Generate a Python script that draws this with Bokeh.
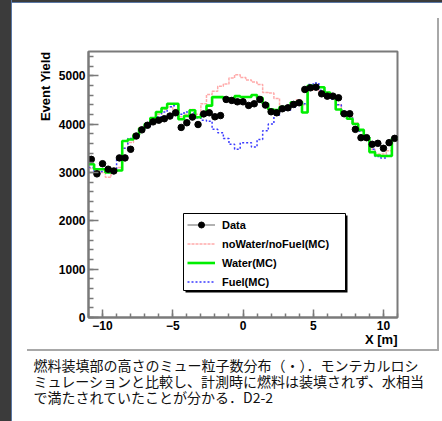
import numpy as np
from bokeh.plotting import figure
from bokeh.models import (Range1d, FixedTicker, Title, BoxAnnotation, Legend,
                          LegendItem, GlobalInlineStyleSheet)
from bokeh.embed import file_html
from bokeh.resources import INLINE

# ---------------- data ----------------
x_lo, x_hi, n_bins = -11.0, 11.0, 55

data_yield = [3270, 2970, 3180, 3066, 3030, 3300, 3300, 3478, 3753, 3880,
              3975, 4045, 4080, 4110, 4165, 4233, 3930, 4027, 4144, 3990,
              4210, 4233, 4150, 4175, 4509, 4488, 4460, 4460, 4385, 4419,
              4509, 4392, 4254, 4233, 4316, 4336, 4406, 4440, 4715, 4749,
              4763, 4625, 4577, 4577, 4543, 4213, 4213, 3890, 3718, 3718,
              3581, 3601, 3498, 3615, 3704]

water_mc = [3169, 3066, 3066, 3000, 3030, 3040, 3650, 3680, 3780, 3910,
            4000, 4124, 4250, 4330, 4420, 4420, 4100, 4165, 4285, 4140,
            4200, 4380, 4557, 4557, 4530, 4530, 4577, 4560, 4560, 4600,
            4543, 4420, 4300, 4290, 4350, 4350, 4450, 4460, 4240, 4790,
            4760, 4760, 4650, 4560, 4300, 4200, 4110, 4000, 3880, 3720,
            3420, 3350, 3340, 3340, 3700]

nowater_mc = [3080, 3040, 3000, 2900, 3000, 3100, 3500, 3620, 3800, 3930,
              4000, 4090, 4200, 4300, 4360, 4300, 4150, 4200, 4300, 4200,
              4420, 4610, 4680, 4780, 4830, 4950, 5020, 4960, 4910, 4870,
              4820, 4650, 4640, 4530, 4350, 4340, 4400, 4500, 4400, 4700,
              4720, 4650, 4620, 4550, 4400, 4250, 4150, 4020, 3860, 3680,
              3480, 3380, 3380, 3450, 3700]

fuel_mc = [3100, 2980, 3020, 3000, 3050, 3300, 3500, 3700, 3750, 3880,
           3950, 4050, 4150, 4250, 4360, 4380, 4200, 4250, 4230, 4130,
           4080, 4060, 3890, 3820, 3700, 3580, 3480, 3615, 3615, 3526,
           3680, 3860, 4000, 4180, 4290, 4290, 4350, 4450, 4420, 4820,
           4850, 4700, 4620, 4520, 4400, 4250, 4150, 4000, 3850, 3700,
           3480, 3330, 3300, 3350, 3680]

x_major = [-10, -5, 0, 5, 10]
y_major = [0, 1000, 2000, 3000, 4000, 5000]

legend_labels = ["Data", "noWater/noFuel(MC)", "Water(MC)", "Fuel(MC)"]

caption_lines = ["燃料装填部の高さのミュー粒子数分布（・）．モンテカルロシ",
                 "ミュレーションと比較し、計測時に燃料は装填されず、水相当",
                 "で満たされていたことが分かる．D2-2"]

# ---------------- derived ----------------
edges = np.linspace(x_lo, x_hi, n_bins + 1)
centers = 0.5 * (edges[:-1] + edges[1:])


def step_y(vals):
    return list(vals) + [vals[-1]]


page_css = ("html { background: "
            "linear-gradient(90deg, #3b3b3b 0px, #3b3b3b 11px, #5a78a6 11px, #5a78a6 12px, rgba(255,255,255,0) 12px), "
            "linear-gradient(#a8a8a8, #a8a8a8) 437px 18px / 2px 333px no-repeat, "
            "linear-gradient(#a8a8a8, #a8a8a8) 27px 349px / 412px 2px no-repeat, "
            "linear-gradient(180deg, #3b3b3b 0px, #3b3b3b 2px, #5a78a6 2px, #5a78a6 3px, #ffffff 3px); } "
            "body { background: transparent; }")

W, H = 441, 420
p = figure(width=W, height=H, output_backend="svg", toolbar_location=None,
           x_range=Range1d(x_lo, x_hi), y_range=Range1d(0, 5500),
           min_border_left=88, min_border_right=W - 397, min_border_top=51,
           min_border_bottom=H - 317)
p.stylesheets = [GlobalInlineStyleSheet(css=page_css)]
p.border_fill_color = None
p.background_fill_color = "white"
p.outline_line_color = "#7a7a7a"
p.outline_line_width = 2
p.xgrid.visible = False
p.ygrid.visible = False

for ax in (p.xaxis[0], p.yaxis[0]):
    ax.axis_line_color = "#7a7a7a"
    ax.axis_line_width = 2
    ax.major_tick_line_color = "#7a7a7a"
    ax.minor_tick_line_color = "#7a7a7a"
    ax.major_tick_line_width = 1.5
    ax.minor_tick_line_width = 1.5
    ax.major_tick_out = 0
    ax.minor_tick_out = 0
    ax.major_label_text_font = "Liberation Sans"
    ax.major_label_text_font_style = "bold"
    ax.major_label_text_font_size = "12px"
    ax.major_label_text_color = "black"
    ax.major_label_standoff = 3

p.xaxis.ticker = FixedTicker(ticks=x_major, minor_ticks=list(range(-11, 12)))
p.yaxis.ticker = FixedTicker(ticks=y_major, minor_ticks=list(range(0, 5600, 200)))
p.xaxis.major_tick_in = 8
p.xaxis.minor_tick_in = 4
p.yaxis.major_tick_in = 10
p.yaxis.minor_tick_in = 5

# histograms
r_red = p.step(x=list(edges), y=step_y(nowater_mc), mode="after",
               line_color="#ffaaaa", line_width=1.5, line_dash="3 1")
r_blue = p.step(x=list(edges), y=step_y(fuel_mc), mode="after",
                line_color="#3a3aff", line_width=1.5, line_dash="2 2")
r_green = p.step(x=list(edges), y=step_y(water_mc), mode="after",
                 line_color="#00ee00", line_width=2.6)
r_dline = p.line(x=[np.nan], y=[np.nan], line_color="#999999", line_width=1.5)
r_data = p.scatter(x=list(centers), y=data_yield, size=6.5, color="black")

# legend box with shadow (screen units relative to the frame)
p.add_layout(BoxAnnotation(left=97, right=259, bottom=25, top=102,
                           left_units="screen", right_units="screen",
                           top_units="screen", bottom_units="screen",
                           fill_color="black", fill_alpha=1, line_color=None))
p.add_layout(BoxAnnotation(left=95, right=257, bottom=27, top=104,
                           left_units="screen", right_units="screen",
                           top_units="screen", bottom_units="screen",
                           fill_color="white", fill_alpha=1,
                           line_color="black", line_width=1, line_alpha=1))

legend = Legend(items=[LegendItem(label=legend_labels[0], renderers=[r_dline, r_data]),
                       LegendItem(label=legend_labels[1], renderers=[r_red]),
                       LegendItem(label=legend_labels[2], renderers=[r_green]),
                       LegendItem(label=legend_labels[3], renderers=[r_blue])],
                location=(99, 28), margin=0, padding=2, spacing=4,
                glyph_width=28, glyph_height=15, label_height=15,
                label_standoff=7, border_line_color=None,
                background_fill_alpha=0,
                label_text_font="Liberation Sans", label_text_font_style="bold",
                label_text_font_size="11px", label_text_color="black")
p.add_layout(legend)

# axis titles
p.add_layout(Title(text="Event Yield", align="right", standoff=5, offset=0,
                   text_font="Liberation Sans", text_font_style="bold",
                   text_font_size="13px", text_color="black"), "left")
p.add_layout(Title(text="X [m]", align="right", standoff=-6, offset=0,
                   text_font="Liberation Sans", text_font_style="bold",
                   text_font_size="13px", text_color="black"), "below")

# caption (one multi-line title)
p.add_layout(Title(text="\n".join(caption_lines), align="left", offset=-55,
                   standoff=23, vertical_align="top", text_line_height=0.795,
                   text_font="Noto Sans CJK JP", text_font_style="normal",
                   text_font_size="14px", text_color="#111111"), "below")

open("out.html", "w").write(file_html(p, INLINE))
